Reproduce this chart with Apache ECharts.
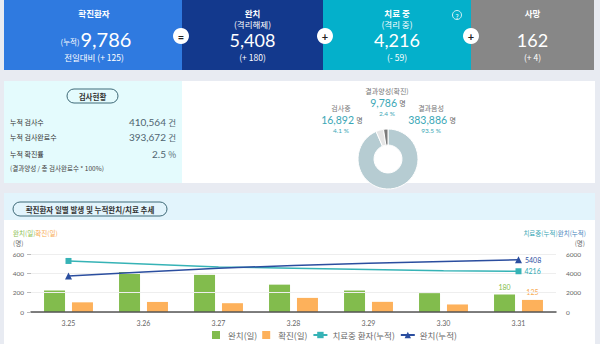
<!DOCTYPE html>
<html><head><meta charset="utf-8">
<script src="https://cdn.jsdelivr.net/npm/echarts@6/dist/echarts.min.js"></script>
<style>html,body{margin:0;padding:0;background:#e8ebf2;overflow:hidden}#c{width:600px;height:344px}</style>
</head><body><div id="c"></div>
<script>
// ---------- data ----------
const summaryTitles = ['확진환자', '완치', '치료 중', '사망'];
const summarySubs = ['', '(격리해제)', '(격리 중)', ''];
const summaryValues = [9786, 5408, 4216, 162];
const summaryDeltas = ['+ 125', '+ 180', '- 59', '+ 4'];
const summaryOps = ['=', '+', '+'];

const testLabels = ['누적 검사수', '누적 검사완료수', '누적 확진률'];
const testValues = ['410,564', '393,672', '2.5'];
const testUnits = ['건', '건', '%'];
const testNote = '(결과양성 / 총 검사완료수 * 100%)';

const pieNames = ['결과음성', '검사중', '결과양성(확진)'];
const pieValues = [383886, 16892, 9786];
const piePercents = [93.5, 4.1, 2.4];

const dates = ['3.25', '3.26', '3.27', '3.28', '3.29', '3.30', '3.31'];
const dailyRecovered = [223, 414, 384, 283, 222, 195, 180];
const dailyConfirmed = [100, 104, 91, 146, 105, 78, 125];
const treatingCum = [5281, 4966, 4665, 4523, 4398, 4275, 4216];
const recoveredCum = [3730, 4144, 4528, 4811, 5033, 5228, 5408];
const leftTicks = [0, 200, 400, 600];
const rightTicks = [0, 2000, 4000, 6000];
const seriesNames = ['완치(일)', '확진(일)', '치료중 환자(누적)', '완치(누적)'];

// ---------- helpers ----------
const KR = "'Noto Sans CJK KR', sans-serif";
const NUM = "Lato, 'Noto Sans CJK KR', sans-serif";
const fmt = v => v.toLocaleString('en-US');
function T(x, y, text, size, color, extra) {
  return { type: 'text', x: x, y: y, silent: true, z: 5,
    style: Object.assign({ text: text, fill: color, fontSize: size, fontFamily: KR, lineHeight: size + 1,
      align: 'center', verticalAlign: 'middle' }, extra || {}) };
}
const C = { green: '#82bc4d', orange: '#fdb15b', teal: '#36b3b6', blue: '#2b4e9f' };

const g = [];
// top boxes
const boxX = [4, 182, 323, 471, 594];
const boxColors = ['#2f7ae0', '#13398d', '#04b0cb', '#878787'];
for (let i = 0; i < 4; i++) {
  g.push({ type: 'rect', z: -10, shape: { x: boxX[i], y: 0, width: boxX[i + 1] - boxX[i], height: 70 }, style: { fill: boxColors[i] } });
  const cx = (boxX[i] + boxX[i + 1]) / 2 + (i === 0 ? 1 : 0);
  g.push(T(cx, 13, summaryTitles[i], 8.5, '#fff', { fontWeight: 'bold', lineHeight: 9 }));
  if (summarySubs[i]) g.push(T(cx, 23.5, summarySubs[i], 8.5, '#fff', { lineHeight: 9 }));
  if (i === 0) {
    g.push(T(cx + 2, 39, '{s|(누적)}{b|' + fmt(summaryValues[i]) + '}', 20, '#fff', {
      lineHeight: 20,
      rich: { s: { fontSize: 7.5, fill: '#fff', fontFamily: KR, padding: [4, 1, 0, 0] }, b: { fontSize: 20, fill: '#fff', fontFamily: NUM } } }));
    g.push(T(cx, 57, '전일대비 (' + summaryDeltas[i] + ')', 8.5, '#fff', { lineHeight: 9 }));
  } else {
    g.push(T(cx, 40, fmt(summaryValues[i]), 18, '#fff', { fontFamily: NUM, lineHeight: 18 }));
    g.push(T(cx, 57, '(' + summaryDeltas[i] + ')', 8.5, '#fff', { lineHeight: 9 }));
  }
}
const opX = [181, 325, 471];
for (let i = 0; i < 3; i++) {
  g.push({ type: 'circle', z: 4, shape: { cx: opX[i], cy: 36, r: 8 }, style: { fill: '#fff' } });
  g.push(T(opX[i], 36, summaryOps[i], 11, '#222', { fontWeight: 'bold', fontFamily: NUM }));
}
g.push({ type: 'circle', z: 4, shape: { cx: 457, cy: 15, r: 4.5 }, style: { fill: 'none', stroke: '#fff', lineWidth: 0.8 } });
g.push(T(457, 15.5, '?', 6.5, '#fff'));

// second row
g.push({ type: 'rect', z: -10, shape: { x: 4, y: 81, width: 178, height: 102 }, style: { fill: '#e4fbfd' } });
g.push({ type: 'rect', z: -10, shape: { x: 182, y: 81, width: 413, height: 102 }, style: { fill: '#ffffff' } });
g.push({ type: 'rect', z: 2, shape: { x: 67, y: 89, width: 51, height: 14, r: 7 }, style: { fill: 'none', stroke: '#3f6a78', lineWidth: 1 } });
g.push(T(92.5, 96, '검사현황', 7.5, '#333', { fontWeight: 'bold' }));
const rowY = [122, 137, 154];
for (let i = 0; i < 3; i++) {
  g.push(T(10, rowY[i], testLabels[i], 7, '#333', { align: 'left' }));
  g.push(T(176, rowY[i], '{v|' + testValues[i] + '} {u|' + testUnits[i] + '}', 10, '#4f6470', {
    align: 'right', rich: { v: { fontSize: 10, fill: '#4f6470', fontFamily: NUM }, u: { fontSize: 8.5, fill: '#4f6470', fontFamily: KR } } }));
}
g.push(T(10, 168, testNote, 6.5, '#444', { align: 'left' }));

// pie labels
const pieLab = [[431, 108], [341, 108], [387, 91]];
for (let i = 0; i < 3; i++) {
  const [x, y] = pieLab[i];
  g.push(T(x, y, pieNames[i], 7, '#777'));
  g.push(T(x + 1, y + 12, '{n|' + fmt(pieValues[i]) + '} {u|명}', 10.5, C.teal, {
    rich: { n: { fontSize: 10.5, fill: '#3aa7b6', fontFamily: NUM }, u: { fontSize: 7, fill: '#666', fontFamily: KR } } }));
  g.push(T(x, y + 22, piePercents[i] + ' %', 6.5, '#3aa7b6', { fontFamily: NUM }));
}

// third panel
g.push({ type: 'rect', z: -10, shape: { x: 4, y: 193, width: 591, height: 27 }, style: { fill: '#e2f4fc' } });
g.push({ type: 'rect', z: -10, shape: { x: 4, y: 220, width: 591, height: 124 }, style: { fill: '#ffffff' } });
g.push({ type: 'rect', z: 2, shape: { x: 13, y: 202, width: 154, height: 14, r: 7 }, style: { fill: 'none', stroke: '#3f6a78', lineWidth: 1 } });
g.push(T(90, 209, '확진환자 일별 발생 및 누적완치/치료 추세', 7.5, '#333', { fontWeight: 'bold' }));
g.push(T(13, 233, '{a|완치(일)}{b|확진(일)}', 6.5, C.green, { align: 'left',
  rich: { a: { fill: '#8cc152', fontSize: 6.5, fontFamily: KR }, b: { fill: '#f7a94e', fontSize: 6.5, fontFamily: KR } } }));
g.push(T(13, 243, '(명)', 6.5, '#666', { align: 'left' }));
g.push(T(586, 233, '{a|치료중(누적)}{b|완치(누적)}', 6.5, C.teal, { align: 'right',
  rich: { a: { fill: '#3aa7b6', fontSize: 6.5, fontFamily: KR }, b: { fill: '#4b86bd', fontSize: 6.5, fontFamily: KR } } }));
g.push(T(585, 243, '(명)', 6.5, '#666', { align: 'right' }));

const last = dates.length - 1;
const sq = 'path://M0,0h10v10h-10z';

const chart = echarts.init(document.getElementById('c'), null, { renderer: 'svg' });
chart.setOption({
  animation: false,
  backgroundColor: '#e8ebf2',
  graphic: g,
  textStyle: { fontFamily: KR },
  legend: {
    left: 212, top: 330, itemWidth: 14, itemHeight: 8, itemGap: 5, padding: 0,
    textStyle: { fontSize: 8.5, color: '#666', fontFamily: KR, lineHeight: 10 },
    data: [
      { name: seriesNames[0], icon: sq },
      { name: seriesNames[1], icon: sq },
      { name: seriesNames[2] },
      { name: seriesNames[3] }
    ]
  },
  grid: { left: 31, right: 44, top: 254, bottom: 32, containLabel: false },
  xAxis: {
    type: 'category', data: dates, z: 5,
    axisLine: { lineStyle: { color: '#555', width: 1.5 } },
    axisTick: { show: false },
    axisLabel: { fontSize: 7, color: '#666', margin: 7, fontFamily: NUM }
  },
  yAxis: [
    { type: 'value', z: 5, min: leftTicks[0], max: leftTicks[leftTicks.length - 1], interval: leftTicks[1] - leftTicks[0],
      axisLine: { show: false }, axisTick: { show: true, length: 4, lineStyle: { color: '#bbb' } },
      axisLabel: { fontSize: 6.5, color: '#666', margin: 7, fontFamily: NUM, formatter: v => String(v) },
      splitLine: { lineStyle: { color: '#eeeeee' } } },
    { type: 'value', z: 5, min: rightTicks[0], max: rightTicks[rightTicks.length - 1], interval: rightTicks[1] - rightTicks[0],
      axisLine: { show: false }, axisTick: { show: false },
      axisLabel: { fontSize: 6.5, color: '#666', margin: 10, fontFamily: NUM, formatter: v => String(v) },
      splitLine: { show: false } }
  ],
  series: [
    { type: 'pie', name: 'tests', center: [388, 159], radius: [14, 30], startAngle: 90, clockwise: true,
      label: { show: false }, labelLine: { show: false }, silent: true,
      itemStyle: { borderColor: '#fff', borderWidth: 1 },
      color: ['#b6ccd2', '#e5e5e5', '#7b7b7b'],
      data: pieNames.map((n, i) => ({ name: n, value: pieValues[i] })) },
    { type: 'bar', name: seriesNames[0], data: dailyRecovered, barWidth: 21, barGap: '33%',
      itemStyle: { color: C.green },
      label: { show: true, position: 'top', fontSize: 7, color: '#82bc4d', fontFamily: NUM, distance: 4,
        formatter: p => p.dataIndex === last ? p.value : '' } },
    { type: 'bar', name: seriesNames[1], data: dailyConfirmed, barWidth: 21,
      itemStyle: { color: C.orange },
      label: { show: true, position: 'top', fontSize: 7, color: '#f7a94e', fontFamily: NUM, distance: 4,
        formatter: p => p.dataIndex === last ? p.value : '' } },
    { type: 'line', name: seriesNames[2], yAxisIndex: 1, data: treatingCum, symbol: 'rect', z: 6,
      symbolSize: (v, p) => (p.dataIndex === 0 || p.dataIndex === last) ? 6 : 0,
      lineStyle: { color: C.teal, width: 1.5 }, itemStyle: { color: C.teal },
      label: { show: true, position: 'right', fontSize: 7, color: '#2fa9b3', fontFamily: NUM, distance: 3,
        formatter: p => p.dataIndex === last ? p.value : '' } },
    { type: 'line', name: seriesNames[3], yAxisIndex: 1, data: recoveredCum, symbol: 'triangle', z: 6,
      symbolSize: (v, p) => (p.dataIndex === 0 || p.dataIndex === last) ? 7 : 0,
      lineStyle: { color: C.blue, width: 1.5 }, itemStyle: { color: C.blue },
      label: { show: true, position: 'right', fontSize: 7, color: '#2b4e9f', fontFamily: NUM, distance: 3,
        formatter: p => p.dataIndex === last ? p.value : '' } }
  ]
});
</script>
</body></html>
